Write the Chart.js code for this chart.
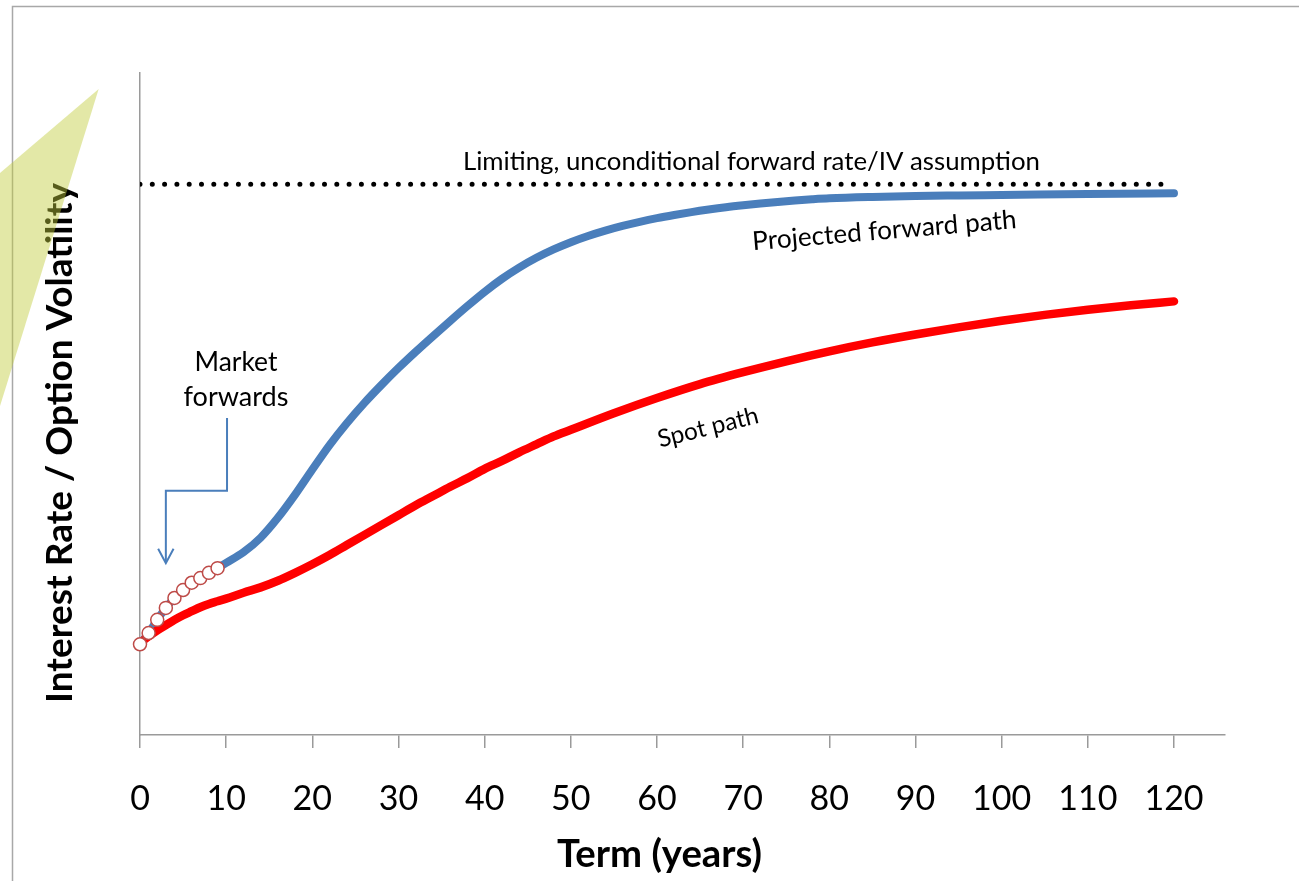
<!DOCTYPE html>
<html>
<head>
<meta charset="utf-8">
<title>Term structure: forward and spot paths</title>
<script src="https://cdn.jsdelivr.net/npm/chart.js@4.4.1/dist/chart.umd.min.js"></script>
<style>
  html, body { margin: 0; padding: 0; background: #ffffff; }
  canvas { display: block; }
</style>
</head>
<body>
<canvas id="chart" width="1299" height="881"></canvas>
<script>
// Term grid (years) for the projected forward path
const forwardTerms = [0, 1, 2, 3, 4, 5, 6, 7, 8, 9, 10, 12, 14, 16, 18, 20, 22, 24, 26, 28, 30,
  32, 34, 36, 38, 40, 42, 44, 46, 48, 50, 52, 54, 56, 58, 60, 62, 64, 66, 68, 70, 72, 74, 76, 78,
  80, 85, 90, 95, 100, 110, 120];
const forwardPath = [1.37, 1.54, 1.74, 1.92, 2.07, 2.19, 2.30, 2.37, 2.45, 2.52, 2.60, 2.76, 2.98,
  3.28, 3.63, 4.01, 4.38, 4.71, 5.01, 5.285, 5.545, 5.79, 6.025, 6.255, 6.48, 6.695, 6.89, 7.06,
  7.208, 7.335, 7.444, 7.538, 7.619, 7.690, 7.752, 7.807, 7.855, 7.899, 7.938, 7.973, 8.003, 8.030,
  8.053, 8.074, 8.092, 8.107, 8.128, 8.142, 8.150, 8.157, 8.172, 8.184];

// Term grid (years) for the spot path
const spotTerms = [0, 1, 2, 3, 4, 5, 6, 7, 8, 9, 10, 12, 14, 16, 18, 20, 22, 24, 26, 28, 30, 32,
  34, 36, 38, 40, 42, 44, 46, 48, 50, 55, 60, 65, 70, 75, 80, 85, 90, 95, 100, 105, 110, 115, 120];
const spotPath = [1.39, 1.49, 1.58, 1.66, 1.74, 1.81, 1.87, 1.93, 1.98, 2.02, 2.06, 2.15, 2.23,
  2.33, 2.45, 2.58, 2.72, 2.87, 3.02, 3.17, 3.32, 3.47, 3.61, 3.75, 3.88, 4.02, 4.14, 4.27, 4.39,
  4.51, 4.61, 4.86, 5.09, 5.30, 5.48, 5.645, 5.795, 5.930, 6.050, 6.158, 6.257, 6.346, 6.425,
  6.492, 6.550];

// Observed market forwards
const marketTerms = [0, 1, 2, 3, 4, 5, 6, 7, 8, 9];
const marketForwards = [1.37, 1.54, 1.74, 1.92, 2.07, 2.19, 2.30, 2.37, 2.45, 2.52];

// Long-run unconditional level
const limitTerms = [0, 118.7];
const limitLevel = 8.32;

// Axis tick labels
const termTicks = [0, 10, 20, 30, 40, 50, 60, 70, 80, 90, 100, 110, 120];

// Callout path from the "Market forwards" note down to the short end
const calloutPath = [[10.1, 4.79], [10.1, 3.69], [3.0, 3.69], [3.0, 2.61]];

const FONT = 'Lato, "Open Sans", "DejaVu Sans", sans-serif';
const AXIS_GREY = '#9a9a9a';

const toXY = (xs, ys) => xs.map((x, i) => ({ x: x, y: ys[i] }));

function fitFont(ctx, text, weight, targetWidth) {
  ctx.font = weight + ' 100px ' + FONT;
  const w = ctx.measureText(text).width;
  return weight + ' ' + (100 * targetWidth / w).toFixed(2) + 'px ' + FONT;
}

function drawLabel(ctx, text, x, y, angleDeg, width, weight) {
  ctx.save();
  ctx.translate(x, y);
  ctx.rotate(angleDeg * Math.PI / 180);
  ctx.font = fitFont(ctx, text, weight || 'normal', width);
  ctx.fillStyle = '#000000';
  ctx.textAlign = 'center';
  ctx.textBaseline = 'alphabetic';
  ctx.fillText(text, 0, 0);
  ctx.restore();
}

const decorations = {
  id: 'decorations',
  afterDraw(chart) {
    const ctx = chart.ctx;
    const xs = chart.scales.x, ys = chart.scales.y;
    const px = t => xs.getPixelForValue(t);
    const py = v => ys.getPixelForValue(v);

    // Annotations placed in data space
    drawLabel(ctx, 'Limiting, unconditional forward rate/IV assumption', px(70.96), py(8.535), 0, 577);
    drawLabel(ctx, 'Projected forward path', px(86.46), py(7.49), -4.8, 265);
    drawLabel(ctx, 'Spot path', px(66.15), py(4.53), -14, 103);
    drawLabel(ctx, 'Market', px(11.14), py(5.50), 0, 83);
    drawLabel(ctx, 'forwards', px(11.14), py(4.97), 0, 105);

    // Callout arrow
    ctx.save();
    ctx.strokeStyle = '#4a7ebb';
    ctx.lineWidth = 2;
    ctx.lineJoin = 'miter';
    ctx.beginPath();
    calloutPath.forEach((p, i) => {
      const X = px(p[0]), Y = py(p[1]);
      if (i === 0) ctx.moveTo(X, Y); else ctx.lineTo(X, Y);
    });
    ctx.stroke();
    const tip = calloutPath[calloutPath.length - 1];
    const tx = px(tip[0]), ty = py(tip[1]) + 1;
    ctx.beginPath();
    ctx.moveTo(tx - 7.7, ty - 14.4);
    ctx.lineTo(tx, ty);
    ctx.lineTo(tx + 7.7, ty - 14.4);
    ctx.stroke();
    ctx.restore();

    // Axis titles
    drawLabel(ctx, 'Term (years)', 659.5, 867, 0, 205, 'bold');
    drawLabel(ctx, 'Interest Rate / Option Volatility', 72, 443, -90, 520, 'bold');

    // Outer frame
    ctx.save();
    ctx.strokeStyle = '#a8a8a8';
    ctx.lineWidth = 1.5;
    ctx.beginPath();
    ctx.moveTo(12.5, 881);
    ctx.lineTo(12.5, 6.5);
    ctx.lineTo(1299, 6.5);
    ctx.stroke();
    ctx.restore();

    // Translucent wedge at the top left
    ctx.save();
    ctx.fillStyle = 'rgba(194, 204, 60, 0.45)';
    ctx.beginPath();
    ctx.moveTo(98.7, 89);
    ctx.lineTo(0, 173);
    ctx.lineTo(0, 406);
    ctx.closePath();
    ctx.fill();
    ctx.restore();
  }
};

new Chart(document.getElementById('chart'), {
  type: 'line',
  data: {
    datasets: [
      {
        label: 'Market forwards',
        data: toXY(marketTerms, marketForwards),
        showLine: false,
        pointRadius: 6.5,
        pointBackgroundColor: '#ffffff',
        pointBorderColor: '#be4b48',
        pointBorderWidth: 1.5,
        clip: false
      },
      {
        label: 'Spot path',
        data: toXY(spotTerms, spotPath),
        borderColor: '#ff0000',
        borderWidth: 8.5,
        borderCapStyle: 'round',
        cubicInterpolationMode: 'monotone',
        pointRadius: 0
      },
      {
        label: 'Projected forward path',
        data: toXY(forwardTerms, forwardPath),
        borderColor: '#4a7ebb',
        borderWidth: 8,
        borderCapStyle: 'round',
        cubicInterpolationMode: 'monotone',
        pointRadius: 0
      },
      {
        label: 'Limiting forward rate',
        data: toXY(limitTerms, limitTerms.map(() => limitLevel)),
        borderColor: '#000000',
        borderWidth: 5,
        borderCapStyle: 'round',
        borderDash: [0, 12.3],
        pointRadius: 0
      }
    ]
  },
  options: {
    responsive: false,
    animation: false,
    events: [],
    layout: { padding: { top: 73, right: 74, left: 0, bottom: 0 } },
    plugins: {
      legend: { display: false },
      tooltip: { enabled: false },
      title: { display: false }
    },
    scales: {
      x: {
        type: 'linear',
        min: 0,
        max: 125.92,
        afterFit: s => { s.height = 146; },
        afterBuildTicks: s => { s.ticks = termTicks.map(v => ({ value: v })); },
        ticks: {
          autoSkip: false,
          maxRotation: 0,
          padding: 31,
          color: '#000000',
          font: { family: FONT, size: 34 }
        },
        grid: {
          display: true,
          drawOnChartArea: false,
          drawTicks: true,
          tickLength: 13,
          color: AXIS_GREY,
          lineWidth: 1.5
        },
        border: { display: true, color: AXIS_GREY, width: 1.5 }
      },
      y: {
        type: 'linear',
        min: 0,
        max: 10,
        afterFit: s => { s.width = 140; },
        ticks: { display: false },
        grid: { display: false, drawTicks: false },
        border: { display: true, color: AXIS_GREY, width: 1.5 }
      }
    }
  },
  plugins: [decorations]
});
</script>
</body>
</html>
